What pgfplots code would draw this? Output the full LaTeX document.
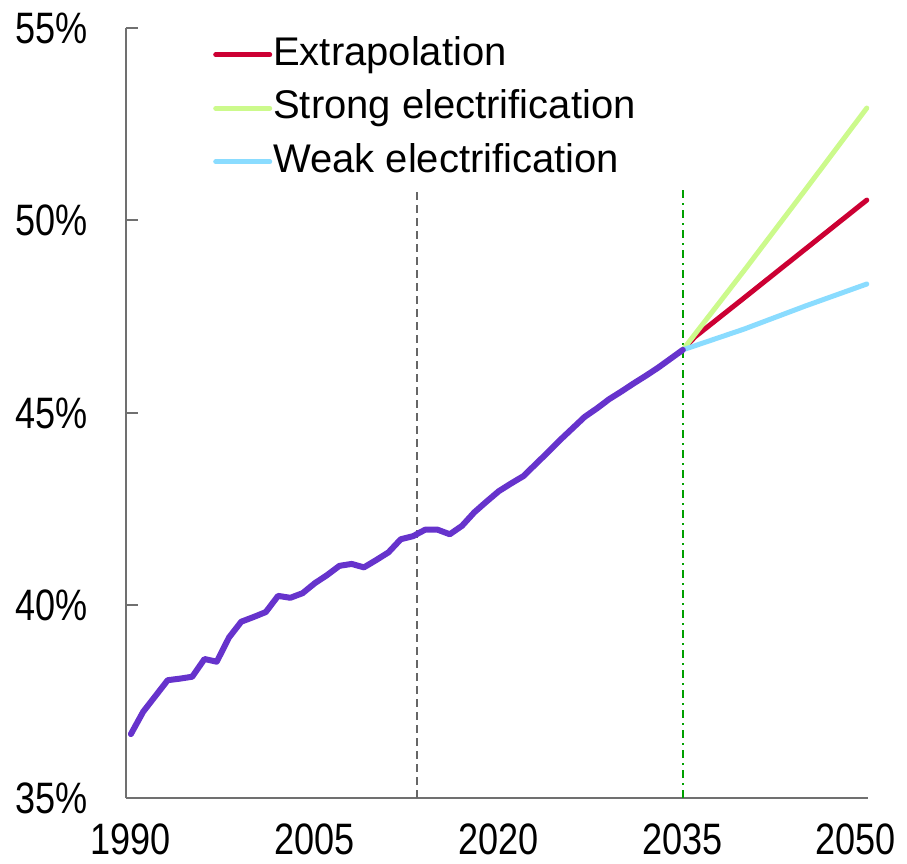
\documentclass[border=0pt]{standalone}
\usepackage{fontspec}
\setmainfont{Liberation Sans}
\newfontfamily\narrowfont[FakeStretch=0.82]{Liberation Sans}
\usepackage{pgfplots}
\pgfplotsset{compat=1.18}

\definecolor{histpurple}{HTML}{6633CC}
\definecolor{extrared}{HTML}{CC0033}
\definecolor{stronggreen}{HTML}{CCFA8C}
\definecolor{weakblue}{HTML}{8ADCFF}
\definecolor{axisgray}{HTML}{707070}
\definecolor{markgray}{HTML}{666666}
\definecolor{markgreen}{HTML}{00A000}

\begin{document}
\begin{tikzpicture}
\begin{axis}[
    name=ax,
    scale only axis,
    width=742pt, height=770pt,
    xmin=1989.6, xmax=2050.1,
    ymin=35, ymax=55,
    axis lines=left,
    axis line style={draw=axisgray, line width=2pt, -},
    xtick={1990,2005,2020,2035},
    xticklabels={1990,2005,2020,2035},
    extra x ticks={2050},
    extra x tick labels={2050},
    extra x tick style={major tick length=0pt, tick label style={xshift=-11pt}},
    ytick={35,40,45,50,55},
    yticklabels={35\%,40\%,45\%,50\%,55\%},
    tick align=inside,
    major tick length=12pt,
    x tick style={draw=none},
    y tick style={draw=axisgray, line width=2pt},
    tick label style={font=\narrowfont\fontsize{44}{50}\selectfont, inner sep=0pt},
    xticklabel style={anchor=north, yshift=-26pt},
    yticklabel style={anchor=east, xshift=-38pt},
    clip=false,
    legend cell align=left,
    legend style={
        draw=none, fill=none, inner sep=0pt,
        at={(0.1173,0.9909)}, anchor=north west,
        font=\fontsize{40}{48}\selectfont,
        row sep=14.5pt, column sep=1pt,
        nodes={inner sep=0pt, text height=30pt, text depth=9pt},
    },
    legend image code/.code={
        \draw[#1, line width=5pt, line cap=round] (0pt,0pt) -- (54pt,0pt);
    },
]
% reference lines
\addplot[forget plot, markgray, line width=2pt, dash pattern=on 8pt off 5pt]
    coordinates {(2013.33,35) (2013.33,50.87)};
\addplot[forget plot, markgreen, line width=2pt, dash pattern=on 8pt off 5pt on 2pt off 5pt]
    coordinates {(2035,35) (2035,50.87)};

% scenarios
\addplot[extrared, line width=5pt, line cap=round, line join=round]
    coordinates {(2035,46.64) (2036,46.98) (2040,47.99) (2045,49.26) (2050,50.53)};
\addlegendentry{Extrapolation}
\addplot[stronggreen, line width=5pt, line cap=round, line join=round]
    coordinates {(2035,46.64) (2040,48.70) (2045,50.80) (2050,52.92)};
\addlegendentry{Strong electrification}
\addplot[weakblue, line width=5pt, line cap=round, line join=round]
    coordinates {(2035,46.64) (2040,47.18) (2045,47.78) (2050,48.35)};
\addlegendentry{Weak electrification}

% history and base path
\addplot[forget plot, histpurple, line width=6pt, line cap=round, line join=round]
    coordinates {
    (1990,36.66) (1991,37.24) (1992,37.65) (1993,38.06) (1994,38.10)
    (1995,38.15) (1996,38.61) (1997,38.54) (1998,39.17) (1999,39.58)
    (2000,39.70) (2001,39.83) (2002,40.25) (2003,40.20) (2004,40.32)
    (2005,40.58) (2006,40.79) (2007,41.03) (2008,41.08) (2009,40.99)
    (2010,41.18) (2011,41.38) (2012,41.72) (2013,41.80) (2014,41.97)
    (2015,41.97) (2016,41.85) (2017,42.07) (2018,42.42) (2019,42.70)
    (2020,42.97) (2021,43.17) (2022,43.36) (2023,43.67) (2024,43.98)
    (2025,44.30) (2026,44.60) (2027,44.90) (2028,45.12) (2029,45.36)
    (2030,45.56) (2031,45.77) (2032,45.97) (2033,46.18) (2034,46.41)
    (2035,46.64)
    };
\end{axis}
\pgfresetboundingbox
\path[use as bounding box] ([xshift=-126pt,yshift=-66pt]ax.south west) rectangle ++(907pt,864pt);
\end{tikzpicture}
\end{document}
